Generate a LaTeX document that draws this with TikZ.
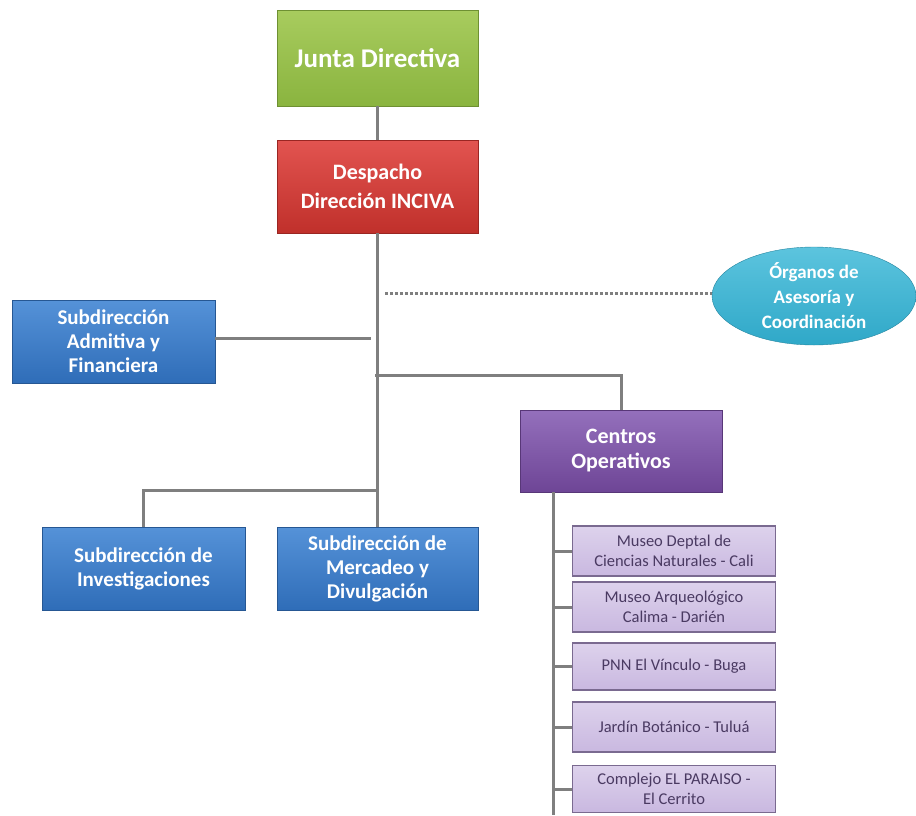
\documentclass[tikz,border=0pt]{standalone}
\usepackage{fontspec}
\setmainfont{Carlito}
\usetikzlibrary{shapes.geometric}
\definecolor{cgreen}{HTML}{8AB43F}
\definecolor{cgreenL}{HTML}{A8CC5E}
\definecolor{cred}{HTML}{C0302B}
\definecolor{credL}{HTML}{E25450}
\definecolor{cblue}{HTML}{2F6DB8}
\definecolor{cblueL}{HTML}{5592D8}
\definecolor{cpurp}{HTML}{6E4596}
\definecolor{cpurpL}{HTML}{9470BC}
\definecolor{cteal}{HTML}{2FA8C8}
\definecolor{ctealL}{HTML}{5CC4DE}
\definecolor{clil}{HTML}{C9B8E0}
\definecolor{clilL}{HTML}{DDD2EC}
\definecolor{clilB}{HTML}{7A6A90}
\definecolor{ctxt}{HTML}{4A3A62}
\definecolor{cline}{HTML}{7F7F7F}
\tikzset{
  mainbox/.style={rectangle, align=center, text=white, inner sep=1pt},
  greenbox/.style={mainbox, top color=cgreenL, bottom color=cgreen, draw=cgreen!80!black, font=\bfseries\fontsize{27}{30}\selectfont},
  redbox/.style={mainbox, top color=credL, bottom color=cred, draw=cred!80!black, font=\bfseries\fontsize{22}{29}\selectfont},
  bluebox/.style={mainbox, top color=cblueL, bottom color=cblue, draw=cblue!80!black, font=\bfseries\fontsize{21}{24}\selectfont},
  purpbox/.style={mainbox, top color=cpurpL, bottom color=cpurp, draw=cpurp!80!black, font=\bfseries\fontsize{22}{25}\selectfont},
  tealell/.style={ellipse, align=center, text=white, top color=ctealL, bottom color=cteal, draw=cteal!80!black, font=\bfseries\fontsize{19}{25}\selectfont, inner sep=0pt},
  lilbox/.style={rectangle, align=center, text=ctxt, top color=clilL, bottom color=clil, draw=clilB, line width=1.2pt, font=\fontsize{16.5}{20}\selectfont, minimum width=203pt, inner sep=1pt},
  conn/.style={draw=cline, line width=3pt},
  dconn/.style={draw=cline, line width=3pt, dash pattern=on 3pt off 2pt}
}
\begin{document}
\begin{tikzpicture}[x=1pt,y=-1pt]
\useasboundingbox (0,0) rectangle (916,815);
% nodes
\node[greenbox, minimum width=201pt, minimum height=96pt] (junta) at (377.5,58) {Junta Directiva};
\node[redbox, minimum width=201pt, minimum height=93pt] (desp) at (377.5,186.5) {Despacho\\Dirección INCIVA};
\node[bluebox, minimum width=203pt, minimum height=83pt] (adm) at (113.5,341.5) {Subdirección\\Admitiva y\\Financiera};
\node[tealell, minimum width=204pt, minimum height=98pt] (org) at (814,296) {Órganos de\\Asesoría y\\Coordinación};
\node[purpbox, minimum width=202pt, minimum height=82pt] (cen) at (621,451) {Centros\\Operativos};
\node[bluebox, minimum width=203pt, minimum height=83pt] (inv) at (143.5,568.5) {Subdirección de\\Investigaciones};
\node[bluebox, minimum width=201pt, minimum height=83pt] (mer) at (377.5,568.5) {Subdirección de\\Mercadeo y\\Divulgación};
\node[lilbox, minimum height=50pt] (m1) at (674,551) {Museo Deptal de\\Ciencias Naturales - Cali};
\node[lilbox, minimum height=50pt] (m2) at (674,607) {Museo Arqueológico\\Calima - Darién};
\node[lilbox, minimum height=47pt] (m3) at (674,666.5) {PNN El Vínculo - Buga};
\node[lilbox, minimum height=50pt] (m4) at (674,727) {Jardín Botánico - Tuluá};
\node[lilbox, minimum height=47pt] (m5) at (674,789) {Complejo EL PARAISO -\\El Cerrito};
% coordinates
\coordinate (dashstart) at (385,293);
\coordinate (admend) at (371,338);
\coordinate (cenj) at (375,375);
\coordinate (invj) at (377,490);
\coordinate (ctop) at (553,492);
\coordinate (cbot) at (553,815);
% connectors
\draw[conn] (junta.south) -- (desp.north);
\draw[conn] (desp.south) -- (mer.north);
\draw[conn] (adm.east |- admend) -- (admend);
\draw[dconn] (dashstart) -- (org.west |- dashstart);
\draw[conn] (cenj) -| (cen.north);
\draw[conn] (invj) -| (inv.north);
\draw[conn] (ctop) -- (cbot);
\foreach \m in {m1,m2,m3,m4,m5} {
  \draw[conn] (ctop |- \m.west) -- (\m.west);
}
\end{tikzpicture}
\end{document}
